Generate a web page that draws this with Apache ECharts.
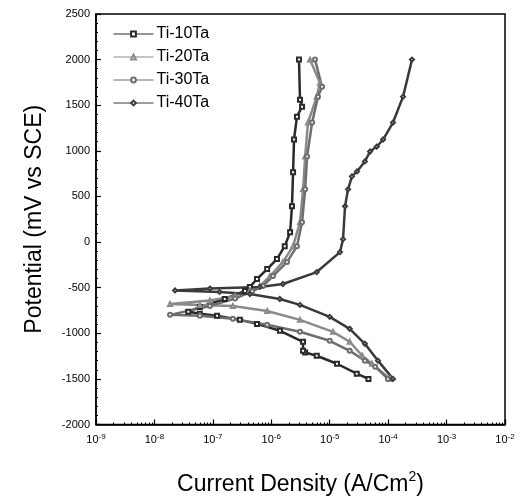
<!DOCTYPE html>
<html>
<head>
<meta charset="utf-8">
<script src="https://cdn.jsdelivr.net/npm/echarts@6/dist/echarts.min.js"></script>
<style>html,body{margin:0;padding:0;background:#fff}#c{width:521px;height:501px}</style>
</head>
<body>
<div id="c"></div>
<script>
// ---- data (current density A/cm^2, potential mV vs SCE) ----
var seriesNames = ['Ti-10Ta', 'Ti-20Ta', 'Ti-30Ta', 'Ti-40Ta'];

var ti10Current = [4.6e-5, 2.9e-5, 1.33e-5, 6.0e-6, 3.8e-6, 3.5e-6, 3.5e-6, 1.41e-6, 5.7e-7, 2.9e-7, 1.18e-7, 6.0e-8, 3.8e-8,
  6.0e-8, 1.6e-7, 3.55e-7, 4.3e-7, 5.7e-7, 8.5e-7, 1.25e-6, 1.7e-6, 2.1e-6, 2.26e-6, 2.36e-6, 2.45e-6, 2.75e-6, 3.36e-6, 3.1e-6, 2.98e-6];
var ti10Potential = [-1500, -1443, -1334, -1246, -1210, -1192, -1093, -973, -897, -853, -809, -787, -765,
  -711, -624, -536, -492, -405, -296, -187, -45, 108, 392, 764, 1124, 1375, 1484, 1561, 2000];

var ti20Current = [1.08e-4, 5.3e-5, 3.6e-5, 2.2e-5, 1.14e-5, 3.1e-6, 8.5e-7, 2.2e-7, 6.0e-8, 1.85e-8,
  8.9e-8, 2.4e-7, 4.3e-7, 6.4e-7, 9.5e-7, 1.58e-6, 2.36e-6, 3.1e-6, 3.5e-6, 3.8e-6, 4.25e-6, 6.0e-6, 6.8e-6, 4.6e-6];
var ti20Potential = [-1500, -1334, -1246, -1093, -984, -853, -755, -700, -689, -678,
  -640, -590, -530, -482, -373, -220, -45, 217, 578, 938, 1310, 1594, 1746, 2000];

var ti30Current = [9.9e-5, 6.0e-5, 4.0e-5, 2.2e-5, 1.0e-5, 3.1e-6, 8.5e-7, 2.2e-7, 6.0e-8, 1.85e-8,
  8.9e-8, 2.4e-7, 4.7e-7, 7.2e-7, 1.07e-6, 1.86e-6, 2.75e-6, 3.36e-6, 3.8e-6, 4.1e-6, 5.0e-6, 6.3e-6, 7.4e-6, 5.6e-6];
var ti30Potential = [-1500, -1366, -1300, -1192, -1082, -984, -907, -842, -809, -798,
  -700, -620, -540, -482, -373, -220, -45, 217, 578, 938, 1310, 1594, 1703, 2000];

var ti40Current = [1.21e-4, 6.7e-5, 4.0e-5, 2.2e-5, 1.0e-5, 3.1e-6, 1.4e-6, 4.3e-7, 1.3e-7, 2.25e-8,
  8.9e-8, 6.4e-7, 1.58e-6, 6.0e-6, 1.5e-5, 1.69e-5, 1.83e-5, 2.06e-5, 2.4e-5, 2.93e-5, 4.0e-5, 4.9e-5, 6.4e-5, 8.2e-5, 1.21e-4, 1.8e-4, 2.56e-4];
var ti40Potential = [-1500, -1300, -1115, -951, -820, -689, -624, -569, -547, -530,
  -510, -492, -460, -329, -110, 32, 392, 578, 720, 774, 884, 993, 1047, 1124, 1310, 1594, 2000];

var xMin = 1e-9, xMax = 1e-2;
var yMin = -2000, yMax = 2500, yInterval = 500;
var xTitle = 'Current Density (A/Cm{s|2})';
var yTitle = 'Potential (mV vs SCE)';

function pairs(xs, ys) { return xs.map(function (x, i) { return [x, ys[i]]; }); }

var currents = [ti10Current, ti20Current, ti30Current, ti40Current];
var potentials = [ti10Potential, ti20Potential, ti30Potential, ti40Potential];
var symbols = ['emptyRect', 'emptyTriangle', 'emptyCircle', 'emptyDiamond'];
var colors = ['#2a2a2a', '#8a8a8a', '#6e6e6e', '#3a3a3a'];

var chart = echarts.init(document.getElementById('c'), null, { renderer: 'canvas' });
var FONT = 'Liberation Sans, Arial, sans-serif';

chart.setOption({
  animation: false,
  backgroundColor: '#fff',
  grid: { left: 96, right: 16, top: 14, bottom: 75, show: true, borderColor: '#000', borderWidth: 1.5, backgroundColor: 'transparent' },
  legend: {
    data: seriesNames,
    orient: 'vertical',
    left: 108, top: 21,
    itemWidth: 40, itemHeight: 6, itemGap: 7,
    lineStyle: { width: 1 },
    itemStyle: { borderWidth: 1 },
    textStyle: { fontFamily: FONT, fontSize: 16, color: '#000', padding: [0, 0, 0, -2] }
  },
  xAxis: {
    type: 'log', logBase: 10, min: xMin, max: xMax,
    name: xTitle, nameLocation: 'middle', nameGap: 46,
    nameTextStyle: { fontFamily: FONT, fontSize: 23, color: '#000', rich: { s: { fontSize: 14, verticalAlign: 'top', padding: [0, 0, 14, 0], fontFamily: FONT } } },
    axisLine: { onZero: false, lineStyle: { color: '#000', width: 1.5 } },
    axisTick: { inside: true, length: 5, lineStyle: { color: '#000', width: 1.2 } },
    minorTick: { show: true, splitNumber: 9, length: 2, lineStyle: { color: '#000' } },
    splitLine: { show: false },
    axisLabel: {
      margin: 8, color: '#000', fontFamily: FONT, fontSize: 11,
      formatter: function (v) { return '10{s|' + Math.round(Math.log10(v)) + '}'; },
      rich: { s: { fontSize: 8, fontFamily: FONT, color: '#000', padding: [0, 0, 7, 0] } }
    }
  },
  yAxis: {
    type: 'value', min: yMin, max: yMax, interval: yInterval,
    name: yTitle, nameLocation: 'middle', nameGap: 50,
    nameTextStyle: { fontFamily: FONT, fontSize: 23, color: '#000' },
    axisLine: { show: true, onZero: false, lineStyle: { color: '#000', width: 1.5 } },
    axisTick: { show: true, inside: true, length: 5, lineStyle: { color: '#000', width: 1.2 } },
    minorTick: { show: true, splitNumber: 5, length: 2, lineStyle: { color: '#000' } },
    splitLine: { show: false },
    axisLabel: { margin: 6, color: '#000', fontFamily: FONT, fontSize: 11, formatter: function (v) { return String(v); } }
  },
  series: seriesNames.map(function (name, k) {
    return {
      name: name, type: 'line',
      data: pairs(currents[k], potentials[k]),
      symbol: symbols[k], symbolSize: 4, showAllSymbol: true,
      lineStyle: { color: colors[k], width: 2.5 },
      itemStyle: { color: colors[k], borderColor: colors[k], borderWidth: 1 },
      emphasis: { disabled: true }
    };
  })
});
</script>
</body>
</html>
